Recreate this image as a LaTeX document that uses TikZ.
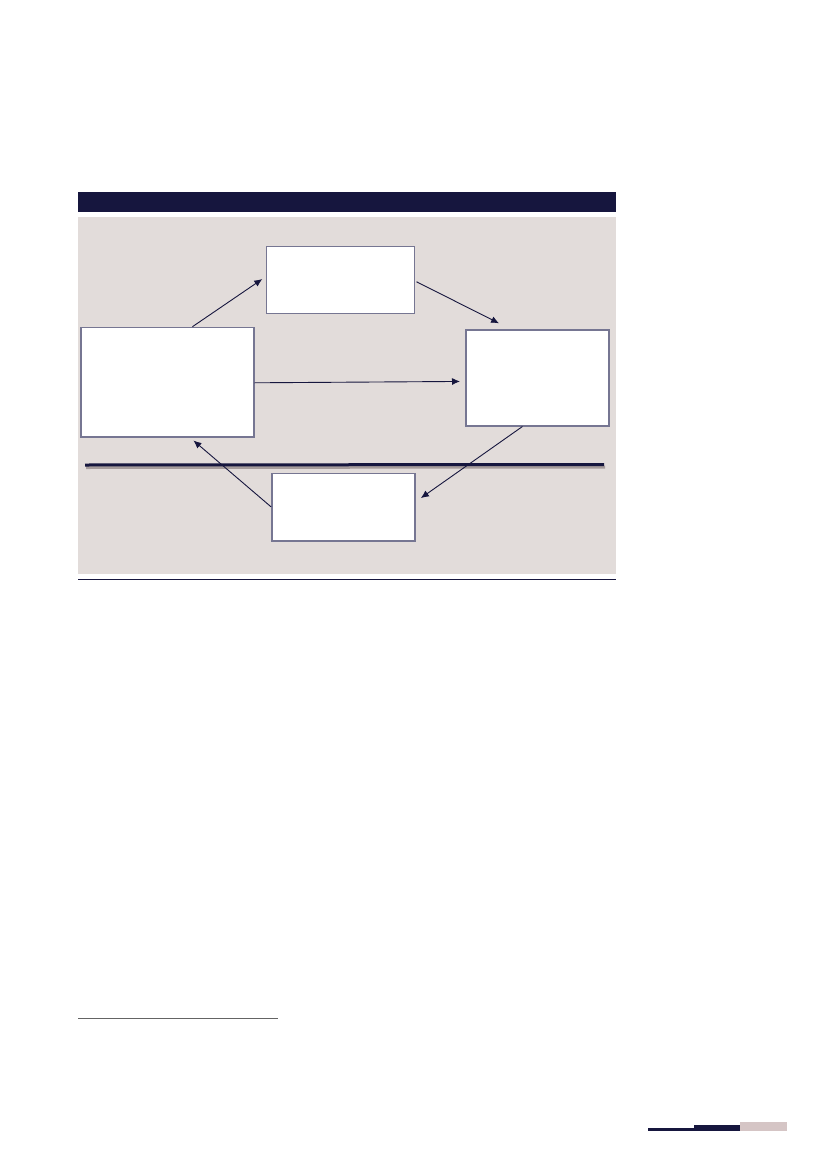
\documentclass[tikz,border=0pt]{standalone}
\usetikzlibrary{arrows.meta,calc}
\definecolor{navy}{RGB}{22,22,62}
\definecolor{panel}{RGB}{226,220,218}
\definecolor{boxline}{RGB}{118,118,146}
\definecolor{pinkgrey}{RGB}{213,197,197}
\definecolor{shadowgrey}{RGB}{165,155,155}
\definecolor{rulegrey}{RGB}{100,100,100}
\tikzset{
  box/.style={draw=boxline, line width=1.5pt, fill=white, anchor=north west, inner sep=0pt},
  conn/.style={draw=navy, line width=0.9pt, -{Latex[length=8pt,width=7pt]}},
}
\begin{document}
\begin{tikzpicture}[x=1pt,y=-1pt]
\useasboundingbox (0,0) rectangle (827,1169);
\fill[white] (0,0) rectangle (827,1169);
% header bar and panel
\fill[navy] (78,192.3) rectangle (616,212.3);
\fill[panel] (78,216.7) rectangle (616,574);
\draw[navy, line width=1.5pt] (78,579.3) -- (616,579.3);
% separator with shadow
\coordinate (sepL) at (85,465);
\coordinate (sepR) at (604,464.5);
\draw[shadowgrey, line width=3pt] ($(sepL)+(1,2.5)$) -- ($(sepR)+(1,2.5)$);
\draw[navy, line width=3pt] (sepL) -- (sepR);
% boxes
\node[box, minimum width=173pt, minimum height=109.3pt] (lb) at (80,326.7) {};
\node[box, minimum width=147.8pt, minimum height=67pt] (tb) at (265.7,245.7) {};
\node[box, minimum width=143pt, minimum height=96pt] (rb) at (465,329) {};
\node[box, minimum width=143pt, minimum height=67.3pt] (bb) at (271,472.7) {};
% connectors
\draw[conn] ($(lb.north)+(25.2,0)$) -- ($(tb.west)+(-3.4,-0.9)$);
\draw[conn] ($(tb.east)+(1.5,1.8)$) -- ($(rb.north)+(-38.2,-5.7)$);
\draw[conn] ($(lb.east)+(0,0.7)$) -- ($(rb.west)+(-5,3.7)$);
\draw[conn] ($(rb.south)+(-14.8,0)$) -- ($(bb.east)+(5.3,-9)$);
\draw[conn] ($(bb.west)+(0,-0.3)$) -- ($(lb.south)+(26.2,3)$);
% footnote rule
\draw[rulegrey, line width=1pt] (78.3,1018.7) -- (278.3,1018.7);
% page decoration
\fill[navy] (648.3,1128.3) rectangle (694,1130.7);
\fill[navy] (694,1125) rectangle (740,1130.7);
\fill[pinkgrey] (740,1122) rectangle (786.7,1130.7);
\end{tikzpicture}
\end{document}
